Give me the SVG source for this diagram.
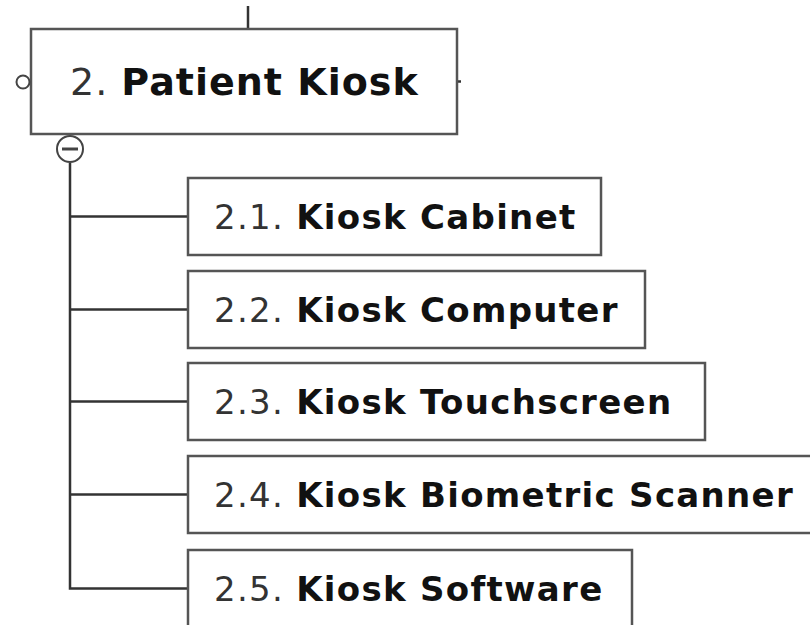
<svg xmlns="http://www.w3.org/2000/svg" width="810" height="625" viewBox="0 0 810 625">
<style>
.box{fill:#fff;stroke:#555;stroke-width:2.5}
.ln{fill:none;stroke:#333;stroke-width:2.5}
.t{font-family:"DejaVu Sans",Verdana,sans-serif;fill:#333}
.b{font-weight:bold;fill:#111}
.main{font-size:38px;letter-spacing:1px}
.sub{font-size:34px;letter-spacing:1.3px}
</style>
<rect width="810" height="625" fill="#fff"/>
<g id="connectors">
<line class="ln" x1="248" y1="6" x2="248" y2="29"/>
<line class="ln" x1="457" y1="81.5" x2="461" y2="81.5" stroke-width="1.5"/>
<path class="ln" d="M70 163 V588.5 H188"/>
<line class="ln" x1="70" y1="216.5" x2="188" y2="216.5"/>
<line class="ln" x1="70" y1="309.5" x2="188" y2="309.5"/>
<line class="ln" x1="70" y1="401.5" x2="188" y2="401.5"/>
<line class="ln" x1="70" y1="494.5" x2="188" y2="494.5"/>
</g>
<g id="n2">
<rect class="box" x="31" y="29" width="426" height="105"/>
<circle cx="23" cy="82" r="6.5" fill="#fff" stroke="#444" stroke-width="2"/>
<circle cx="70" cy="149" r="13" fill="#fff" stroke="#444" stroke-width="2"/>
<line x1="62" y1="149" x2="78" y2="149" stroke="#444" stroke-width="3"/>
<text class="t main" x="70" y="95">2. <tspan class="b">Patient Kiosk</tspan></text>
</g>
<g id="n2_1">
<rect class="box" x="188" y="178" width="413" height="77"/>
<text class="t sub" x="214" y="229">2.1. <tspan class="b">Kiosk Cabinet</tspan></text>
</g>
<g id="n2_2">
<rect class="box" x="188" y="271" width="457" height="77"/>
<text class="t sub" x="214" y="322">2.2. <tspan class="b">Kiosk Computer</tspan></text>
</g>
<g id="n2_3">
<rect class="box" x="188" y="363" width="517" height="77"/>
<text class="t sub" x="214" y="414">2.3. <tspan class="b">Kiosk Touchscreen</tspan></text>
</g>
<g id="n2_4">
<rect class="box" x="188" y="456" width="640" height="77"/>
<text class="t sub" x="214" y="507">2.4. <tspan class="b">Kiosk Biometric Scanner</tspan></text>
</g>
<g id="n2_5">
<rect class="box" x="188" y="550" width="444" height="80"/>
<text class="t sub" x="214" y="601">2.5. <tspan class="b">Kiosk Software</tspan></text>
</g>
</svg>
